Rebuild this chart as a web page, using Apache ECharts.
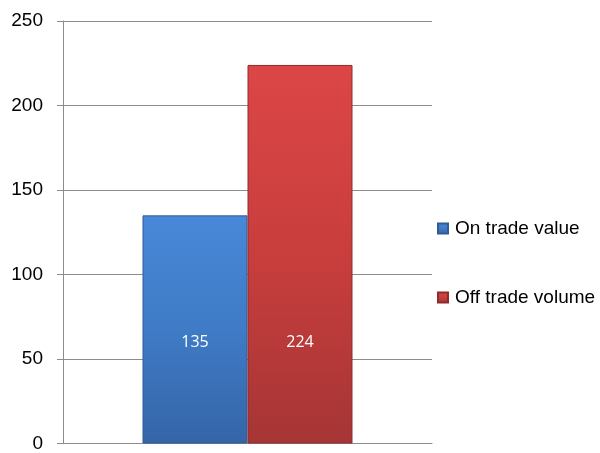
<!DOCTYPE html>
<html>
<head>
<meta charset="utf-8">
<script src="https://cdn.jsdelivr.net/npm/echarts@6/dist/echarts.min.js"></script>
<style>
html,body{margin:0;padding:0;background:#fff;overflow:hidden;}
#c{width:600px;height:453px;}
</style>
</head>
<body>
<div id="c"></div>
<script>
var categories = [''];
var seriesNames = ['On trade value', 'Off trade volume'];
var onTradeValue = [135];
var offTradeVolume = [224];
var yTicks = [0, 50, 100, 150, 200, 250];

var chart = echarts.init(document.getElementById('c'));
function grad(top, mid, bottom) {
  return new echarts.graphic.LinearGradient(0, 0, 0, 1, [
    {offset: 0, color: top},
    {offset: 0.5, color: mid},
    {offset: 1, color: bottom}
  ]);
}
var labelCfg = {
  show: true,
  position: 'insideBottom',
  distance: 93,
  color: '#ffffff',
  fontFamily: 'Open Sans',
  fontSize: 16
};
chart.setOption({
  animation: false,
  backgroundColor: '#ffffff',
  grid: {left: 63, right: 168, top: 21, bottom: 7, containLabel: false},
  legend: {
    orient: 'vertical',
    left: 432,
    top: 214,
    itemWidth: 10,
    itemHeight: 10,
    itemGap: 50,
    icon: 'rect',
    textStyle: {fontFamily: 'Liberation Sans', fontSize: 19, color: '#000', padding: [0, 0, 0, 2]},
    data: seriesNames
  },
  xAxis: {
    type: 'category',
    data: categories,
    axisLine: {show: true, lineStyle: {color: '#8c8c8c', width: 1}},
    axisTick: {show: false},
    axisLabel: {show: false}
  },
  yAxis: {
    type: 'value',
    min: yTicks[0],
    max: yTicks[yTicks.length - 1],
    interval: 50,
    axisLine: {show: true, lineStyle: {color: '#8c8c8c', width: 1}},
    axisTick: {show: true, length: 6, lineStyle: {color: '#8c8c8c'}},
    axisLabel: {fontFamily: 'Liberation Sans', fontSize: 19, color: '#000', margin: 20, padding: [4, 0, 0, 0]},
    splitLine: {show: true, lineStyle: {color: '#8c8c8c', width: 1}}
  },
  series: [
    {
      name: seriesNames[0],
      type: 'bar',
      data: onTradeValue,
      barWidth: 105,
      barGap: '0%',
      itemStyle: {color: grad('#4888d8', '#3f7bc6', '#3565a8'), borderColor: '#2f5b96', borderWidth: 1},
      label: labelCfg
    },
    {
      name: seriesNames[1],
      type: 'bar',
      data: offTradeVolume,
      barWidth: 105,
      barGap: '0%',
      itemStyle: {color: grad('#dc4646', '#c83e3d', '#a63535'), borderColor: '#8e2c2c', borderWidth: 1},
      label: labelCfg
    }
  ]
});
</script>
</body>
</html>
